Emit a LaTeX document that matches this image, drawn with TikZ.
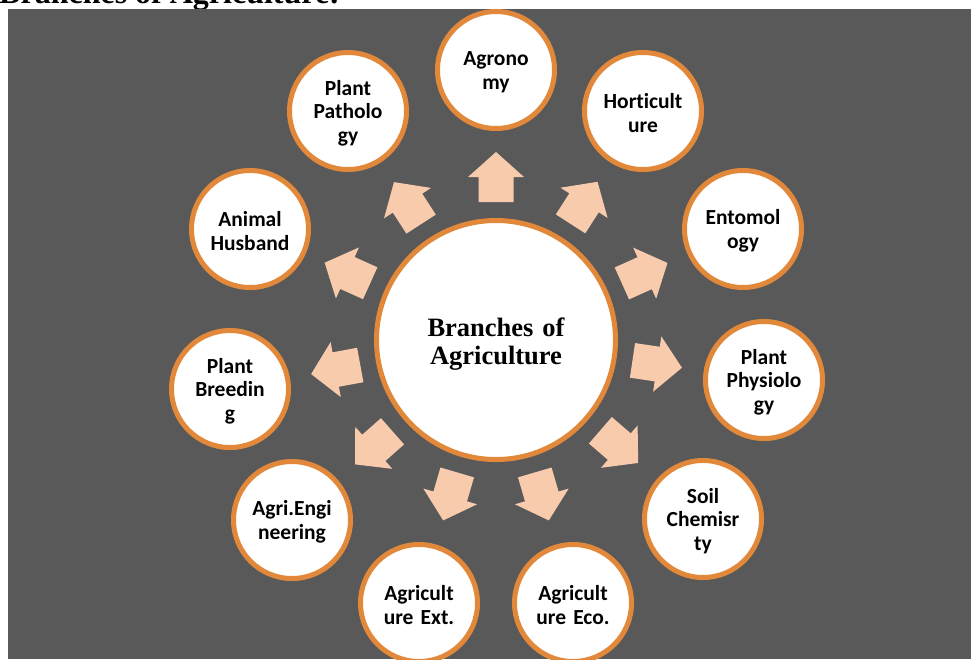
\documentclass[tikz,border=0pt]{standalone}
\usepackage{fontspec}
\setmainfont{Liberation Serif}
\newfontfamily\lblfont[Ligatures=CommonOff]{Carlito}
\usetikzlibrary{calc}
\definecolor{bggray}{HTML}{595959}
\definecolor{ringor}{RGB}{226,136,58}
\definecolor{peach}{HTML}{F8CBAD}
\tikzset{
  leaf/.style={circle, draw=ringor, line width=5pt, fill=white, minimum size=117pt, inner sep=0pt},
  leaftext/.style={inner sep=0pt, text width=115pt, align=center, yshift=-2pt,
    font=\lblfont\bfseries\fontsize{21.5}{23.5}\selectfont},
  hub/.style={circle, draw=ringor, line width=5pt, fill=white, minimum size=239pt, inner sep=0pt},
  hubtext/.style={inner sep=0pt, text width=200pt, align=center,
    font=\bfseries\fontsize{26.5}{28}\selectfont},
  arr/.style={fill=peach}
}
\newcommand\blockarr[1]{%
  \coordinate (s) at ($(c.center)!138pt!(#1.center)$);
  \coordinate (h) at ($(c.center)!163pt!(#1.center)$);
  \coordinate (t) at ($(c.center)!188pt!(#1.center)$);
  \fill[arr] ($(s)!17.5pt!90:(t)$) -- ($(h)!17.5pt!90:(t)$) -- ($(h)!28pt!90:(t)$) -- (t)
    -- ($(h)!28pt!-90:(t)$) -- ($(h)!17.5pt!-90:(t)$) -- ($(s)!17.5pt!-90:(t)$) -- cycle;}
\newcommand\leafnode[3]{%
  \node[leaf] (#1) at (#2) {};
  \node[leaftext] (#1t) at (#1.center) {#3};}
\begin{document}
\begin{tikzpicture}[x=1pt,y=-1pt]
\useasboundingbox (0,0) rectangle (971,659);
\fill[white] (0,0) rectangle (971,659);
\begin{scope}
  \clip (0,0) rectangle (971,659);
  \node[anchor=base west, inner sep=0pt, font=\bfseries\fontsize{32}{34}\selectfont] (title) at (-1,3) {Branches of Agriculture:};
\end{scope}
\fill[bggray] (8,9) rectangle (971,659);
\begin{scope}
  \clip (8,9) rectangle (971,659);
  \node[hub] (c) at (496,340) {};
  \node[hubtext] (ct) at (496,344) {Branches of\\Agriculture};
  \leafnode{n1}{496,70}{Agrono\\my}
  \leafnode{n2}{643,111}{Horticult\\ure}
  \leafnode{n3}{743,229}{Entomol\\ogy}
  \leafnode{n4}{764,380}{Plant\\Physiolo\\gy}
  \leafnode{n5}{703,519}{Soil\\Chemisr\\ty}
  \leafnode{n6}{573,603}{Agricult\\ure Eco.}
  \leafnode{n7}{419,603}{Agricult\\ure Ext.}
  \leafnode{n8}{292,520}{Agri.Engi\\neering}
  \leafnode{n9}{230,389}{Plant\\Breedin\\g}
  \leafnode{n10}{250,229}{Animal\\Husband}
  \leafnode{n11}{348,111}{Plant\\Patholo\\gy}
  \foreach \k in {1,...,11} {\blockarr{n\k}}
\end{scope}
\end{tikzpicture}
\end{document}
